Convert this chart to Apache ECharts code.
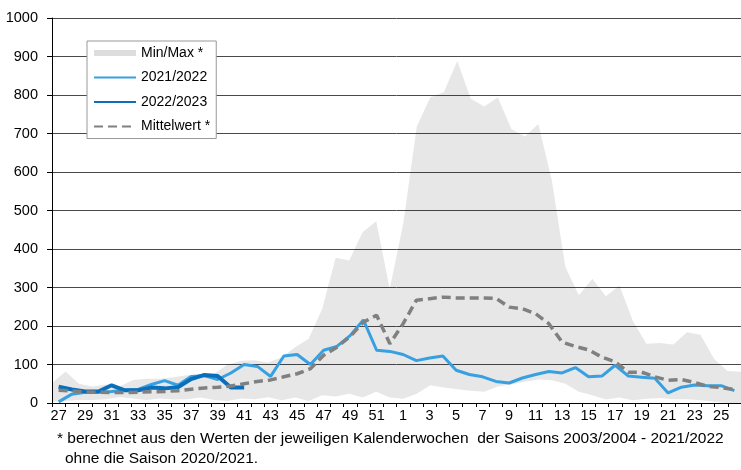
<!DOCTYPE html>
<html>
<head>
<meta charset="utf-8">
<script src="https://cdn.jsdelivr.net/npm/echarts@6/dist/echarts.min.js"></script>
<style>html,body{margin:0;padding:0;background:#fff;}#c{width:741px;height:470px;}</style>
</head>
<body>
<div id="c"></div>
<script>
const weeks = ['27','28','29','30','31','32','33','34','35','36','37','38','39','40','41','42','43','44','45','46','47','48','49','50','51','52',
  '1','2','3','4','5','6','7','8','9','10','11','12','13','14','15','16','17','18','19','20','21','22','23','24','25','26'];
const maxVals = [52,82,50,43,48,43,60,63,63,67,72,74,76,100,110,111,105,119,145,167,245,377,370,444,472,297,
  466,718,794,807,888,790,770,794,712,692,725,578,353,280,323,277,305,213,154,156,152,184,177,115,83,81];
const minVals = [3,5,8,8,10,15,12,8,12,9,10,14,8,5,12,10,15,7,14,5,20,17,24,14,29,14,
  11,24,46,40,36,32,29,43,48,55,61,59,50,29,20,9,14,7,11,13,10,10,7,3,0,0];
const s2021_2022 = [3,23,28,28,30,33,35,48,58,46,69,71,61,78,100,95,69,122,126,100,137,147,175,216,137,134,
  126,110,117,122,85,74,68,56,52,65,74,82,78,92,68,70,98,70,67,64,26,41,47,45,45,32];
const s2022_2023 = [42,35,30,30,46,33,33,40,38,41,62,73,70,40,40];
const meanVals = [33,31,29,28,27,27,28,29,30,32,36,39,41,44,50,56,60,68,76,89,124,145,173,210,228,154,
  206,267,271,275,273,273,273,272,249,245,232,206,158,147,138,119,107,80,80,68,59,61,53,43,40,35];
const footnote1 = '* berechnet aus den Werten der jeweiligen Kalenderwochen  der Saisons 2003/2004 - 2021/2022';
const footnote2 = 'ohne die Saison 2020/2021.';

const band = maxVals.map((v, i) => v - minVals[i]);
const FONT = '"Liberation Sans", Arial, sans-serif';

const chart = echarts.init(document.getElementById('c'), null, {renderer: 'canvas'});
chart.setOption({
  animation: false,
  backgroundColor: '#fff',
  textStyle: {fontFamily: FONT},
  grid: {left: 52, top: 18, right: -5, bottom: 67, containLabel: false},
  legend: {
    orient: 'vertical', left: 87, top: 41,
    data: [
      {name: 'Min/Max *', icon: 'rect', itemStyle: {color: '#dddddd', opacity: 1}},
      {name: '2021/2022', itemStyle: {opacity: 0}},
      {name: '2022/2023', itemStyle: {opacity: 0}},
      {name: 'Mittelwert *', itemStyle: {opacity: 0}}
    ],
    itemWidth: 42, itemHeight: 6, itemGap: 10.5,
    padding: [5, 6, 5, 6],
    backgroundColor: '#fff', borderColor: '#999', borderWidth: 1,
    textStyle: {fontSize: 14, color: '#000', fontFamily: FONT}
  },
  xAxis: [{
    type: 'category', data: weeks, boundaryGap: true,
    axisLine: {lineStyle: {color: '#000', width: 1}},
    axisTick: {show: true, interval: 0, length: 4, lineStyle: {color: '#000'}},
    axisLabel: {interval: 1, color: '#000', fontSize: 14.5, margin: 5, fontFamily: FONT},
    splitLine: {show: false}
  }, {
    type: 'category', data: weeks, boundaryGap: false, show: false
  }],
  yAxis: {
    type: 'value', min: 0, max: 1000, interval: 100,
    axisLine: {show: true, lineStyle: {color: '#000', width: 1}},
    axisTick: {show: true, length: 5, lineStyle: {color: '#000'}},
    axisLabel: {color: '#000', fontSize: 14.5, margin: 14, fontFamily: FONT, formatter: v => String(v)},
    splitLine: {show: true, lineStyle: {color: '#4a4a4a', width: 1}}
  },
  series: [
    {name: 'minBase', type: 'line', xAxisIndex: 1, stack: 'mm', data: minVals, symbol: 'none',
     lineStyle: {width: 0, opacity: 0}, silent: true, z: 1},
    {name: 'Min/Max *', type: 'line', xAxisIndex: 1, stack: 'mm', data: band, symbol: 'none',
     lineStyle: {width: 0, opacity: 0}, itemStyle: {color: '#dddddd'},
     areaStyle: {color: 'rgba(0,0,0,0.135)'}, z: 1},
    {name: '2021/2022', type: 'line', xAxisIndex: 0, data: s2021_2022, symbol: 'none',
     lineStyle: {color: '#36a0e2', width: 3}, itemStyle: {color: '#36a0e2'}, z: 3},
    {name: '2022/2023', type: 'line', xAxisIndex: 0, data: s2022_2023, symbol: 'none',
     lineStyle: {color: '#0a6fba', width: 4}, itemStyle: {color: '#0a6fba'}, z: 4},
    {name: 'Mittelwert *', type: 'line', xAxisIndex: 0, data: meanVals, symbol: 'none',
     lineStyle: {color: '#808080', width: 3.5, type: [9, 5]}, itemStyle: {color: '#808080'}, z: 5}
  ],
  graphic: [
    {type: 'text', left: 57, top: 431, style: {text: footnote1, fontSize: 15.5, fill: '#000', fontFamily: FONT}},
    {type: 'text', left: 65, top: 451, style: {text: footnote2, fontSize: 15.5, fill: '#000', fontFamily: FONT}}
  ]
});
</script>
</body>
</html>
